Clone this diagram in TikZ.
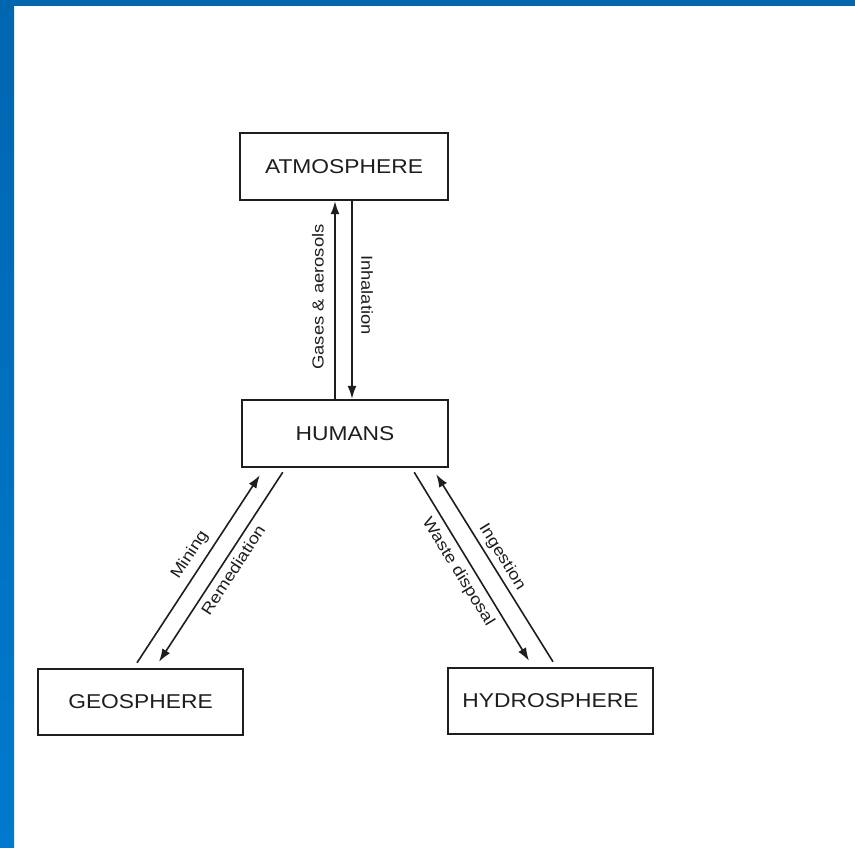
\documentclass[tikz,border=0pt]{standalone}
\usepackage{fontspec}
\usepackage{graphicx}
\setmainfont{Liberation Sans}
\usetikzlibrary{arrows.meta}
\definecolor{bartop}{RGB}{0,102,176}
\definecolor{barbot}{RGB}{0,122,206}
\definecolor{ink}{RGB}{30,30,30}
\newcommand{\boxtxt}[1]{\fontsize{20}{24}\selectfont\scalebox{1.14}[1]{#1}}
\newcommand{\lbltxt}[1]{\fontsize{16}{19}\selectfont\scalebox{1.15}[1]{#1}}
\begin{document}
\begin{tikzpicture}[x=1pt,y=-1pt,
  sphere/.style={draw=ink,line width=2.4pt,fill=white,text=ink,inner sep=0pt,
    minimum width=205pt,minimum height=66pt},
  flow/.style={draw=ink,line width=1.6pt,-{Latex[length=13pt,width=9pt]}},
  lbl/.style={text=ink,inner sep=0pt}]
\useasboundingbox (0,0) rectangle (855,848);
\fill[white] (0,0) rectangle (855,848);
\shade[top color=bartop,bottom color=barbot] (0,0) rectangle (14,848);
\fill[bartop] (0,0) rectangle (855,6);

\node[sphere,minimum width=208pt,minimum height=67pt] (atmos) at (344,166.5) {\boxtxt{ATMOSPHERE}};
\node[sphere,minimum width=206pt,minimum height=67pt] (humans) at (345,433.5) {\boxtxt{HUMANS}};
\node[sphere] (geo) at (140.5,702) {\boxtxt{GEOSPHERE}};
\node[sphere] (hydro) at (550.5,701) {\boxtxt{HYDROSPHERE}};

% vertical pair
\draw[flow] ([xshift=-10pt]humans.north) -- ([xshift=-9pt]atmos.south);
\draw[flow] ([xshift=8pt]atmos.south) -- ([xshift=7pt]humans.north);

% geosphere pair
\draw[flow] ([shift={(-3.5,-5)}]geo.north) -- ([shift={(19,7)}]humans.south west);
\draw[flow] ([shift={(42,4)}]humans.south west) -- ([shift={(18.5,-6)}]geo.north);

% hydrosphere pair
\draw[flow] ([shift={(-35,4)}]humans.south east) -- ([shift={(-21.5,-6)}]hydro.north);
\draw[flow] ([shift={(2.5,-5)}]hydro.north) -- ([shift={(-13,6)}]humans.south east);

% labels
\node[lbl,rotate=90] (gases) at (318,297) {\lbltxt{Gases \& aerosols}};
\node[lbl,rotate=-90] (inhal) at (367,295) {\lbltxt{Inhalation}};
\node[lbl,rotate=57] (mining) at (190,555) {\lbltxt{Mining}};
\node[lbl,rotate=57] (remed) at (233,570) {\lbltxt{Remediation}};
\node[lbl,rotate=-58.5] (waste) at (458,572) {\lbltxt{Waste disposal}};
\node[lbl,rotate=-58.5] (inges) at (502,557) {\lbltxt{Ingestion}};
\end{tikzpicture}
\end{document}
